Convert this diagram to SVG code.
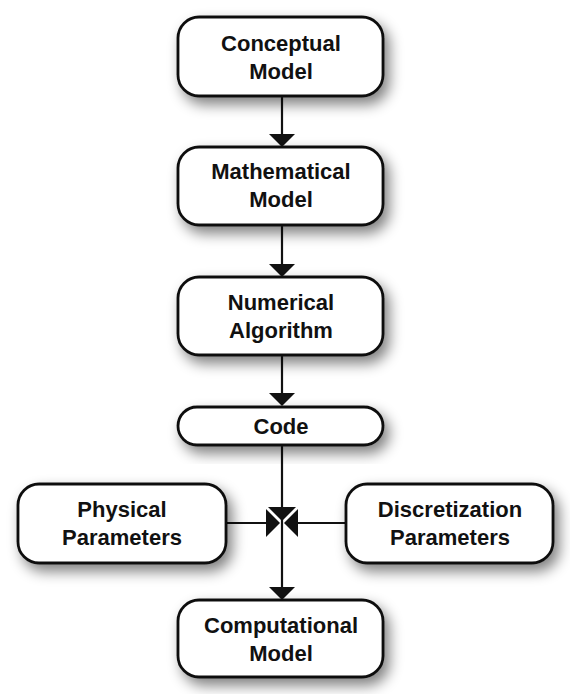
<svg xmlns="http://www.w3.org/2000/svg" width="570" height="694" viewBox="0 0 570 694">
<style>
.box{fill:#ffffff;stroke:#111111;stroke-width:2.8;filter:url(#sh)}
.t{font-family:"Liberation Sans",Arial,sans-serif;font-weight:bold;font-size:22px;fill:#111111;text-anchor:middle}
.ln{stroke:#111111;stroke-width:2.2;fill:none}
.ah{fill:#111111}
</style>
<defs>
<filter id="sh" x="-30%" y="-40%" width="160%" height="190%">
<feGaussianBlur in="SourceAlpha" stdDeviation="7"/>
<feOffset dx="5" dy="7" result="b"/>
<feComponentTransfer><feFuncA type="linear" slope="0.5"/></feComponentTransfer>
<feMerge><feMergeNode/><feMergeNode in="SourceGraphic"/></feMerge>
</filter>
</defs>
<rect width="570" height="694" fill="#ffffff"/>
<g id="connectors">
<line class="ln" x1="282" y1="96" x2="282" y2="136"/>
<polygon class="ah" points="269,134 295,134 282,147"/>
<line class="ln" x1="282" y1="225" x2="282" y2="266"/>
<polygon class="ah" points="269,264 295,264 282,277"/>
<line class="ln" x1="282" y1="355" x2="282" y2="395"/>
<polygon class="ah" points="269,393 295,393 282,406"/>
<line class="ln" x1="282" y1="445" x2="282" y2="590"/>
<polygon class="ah" points="268,507 296,507 282,521"/>
<line class="ln" x1="226" y1="523" x2="268" y2="523"/>
<polygon class="ah" points="266,509 266,537 280,523"/>
<line class="ln" x1="346" y1="523" x2="297" y2="523"/>
<polygon class="ah" points="298,509 298,537 284,523"/>
<polygon class="ah" points="269,587 295,587 282,600"/>
</g>
<g id="conceptual">
<rect class="box" x="178" y="17" width="205" height="79" rx="21"/>
<text class="t" x="281" y="51">Conceptual</text>
<text class="t" x="281" y="79">Model</text>
</g>
<g id="mathematical">
<rect class="box" x="178" y="147" width="205" height="78" rx="21"/>
<text class="t" x="281" y="179">Mathematical</text>
<text class="t" x="281" y="207">Model</text>
</g>
<g id="numerical">
<rect class="box" x="178" y="277" width="205" height="78" rx="21"/>
<text class="t" x="281" y="310">Numerical</text>
<text class="t" x="281" y="338">Algorithm</text>
</g>
<g id="code">
<rect class="box" x="178" y="407" width="205" height="38" rx="19"/>
<text class="t" x="281" y="434">Code</text>
</g>
<g id="physical">
<rect class="box" x="18" y="484" width="208" height="79" rx="21"/>
<text class="t" x="122" y="517">Physical</text>
<text class="t" x="122" y="545">Parameters</text>
</g>
<g id="discretization">
<rect class="box" x="346" y="484" width="207" height="79" rx="21"/>
<text class="t" x="450" y="517">Discretization</text>
<text class="t" x="450" y="545">Parameters</text>
</g>
<g id="computational">
<rect class="box" x="178" y="600" width="205" height="77" rx="21"/>
<text class="t" x="281" y="633">Computational</text>
<text class="t" x="281" y="661">Model</text>
</g>
</svg>
